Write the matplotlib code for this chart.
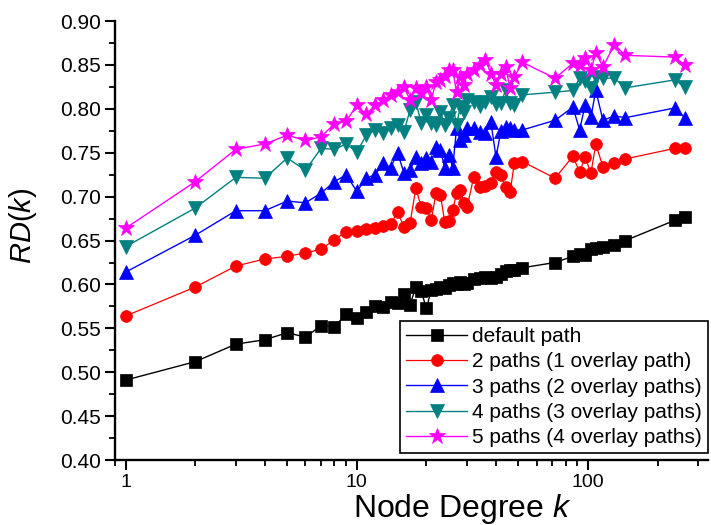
import matplotlib
matplotlib.use("Agg")
import matplotlib.pyplot as plt
from matplotlib.ticker import LogLocator, FixedLocator, MultipleLocator, NullFormatter, FuncFormatter

plt.rcParams['font.family'] = ['Liberation Sans', 'DejaVu Sans']
plt.rcParams['mathtext.fontset'] = 'custom'
plt.rcParams['mathtext.it'] = 'Liberation Sans:italic'
plt.rcParams['mathtext.rm'] = 'Liberation Sans'

# node degree k
degree = [1, 2, 3, 4, 5, 6, 7, 8, 9, 10, 11, 12, 13, 14, 15, 16, 17, 18, 19, 20,
          21, 22, 23, 24, 25, 26, 27, 28, 29, 30, 32, 34, 36, 38, 40, 42, 44, 46, 48, 52,
          72, 86, 92, 97, 103, 108, 116, 130, 145, 237, 262]

default_path = [0.491, 0.512, 0.532, 0.537, 0.545, 0.540, 0.553, 0.552, 0.566, 0.562,
                0.569, 0.575, 0.574, 0.580, 0.579, 0.589, 0.577, 0.597, 0.592, 0.573,
                0.594, 0.595, 0.597, 0.596, 0.599, 0.602, 0.600, 0.603, 0.601, 0.602,
                0.606, 0.607, 0.608, 0.607, 0.608, 0.612, 0.615, 0.616, 0.617, 0.619,
                0.625, 0.632, 0.635, 0.634, 0.640, 0.641, 0.643, 0.645, 0.650, 0.673, 0.677]

paths_2 = [0.564, 0.597, 0.621, 0.629, 0.632, 0.636, 0.640, 0.651, 0.660, 0.661,
           0.663, 0.664, 0.667, 0.669, 0.682, 0.666, 0.670, 0.710, 0.688, 0.687,
           0.673, 0.704, 0.702, 0.671, 0.672, 0.685, 0.704, 0.708, 0.693, 0.688,
           0.722, 0.711, 0.712, 0.715, 0.728, 0.725, 0.711, 0.705, 0.738, 0.740,
           0.721, 0.746, 0.728, 0.745, 0.727, 0.760, 0.734, 0.738, 0.743, 0.755, 0.755]

paths_3 = [0.614, 0.656, 0.684, 0.684, 0.695, 0.693, 0.704, 0.717, 0.725, 0.706,
           0.721, 0.725, 0.738, 0.733, 0.750, 0.727, 0.730, 0.745, 0.738, 0.744,
           0.740, 0.757, 0.753, 0.733, 0.748, 0.733, 0.778, 0.764, 0.770, 0.778,
           0.778, 0.774, 0.772, 0.785, 0.745, 0.775, 0.779, 0.778, 0.776, 0.776,
           0.787, 0.802, 0.776, 0.804, 0.791, 0.821, 0.787, 0.792, 0.790, 0.801, 0.790]

paths_4 = [0.643, 0.687, 0.722, 0.721, 0.744, 0.730, 0.755, 0.754, 0.760, 0.751,
           0.770, 0.776, 0.772, 0.778, 0.782, 0.774, 0.799, 0.808, 0.784, 0.793,
           0.784, 0.782, 0.796, 0.782, 0.790, 0.804, 0.782, 0.802, 0.796, 0.810,
           0.808, 0.803, 0.808, 0.813, 0.806, 0.807, 0.821, 0.807, 0.804, 0.816,
           0.819, 0.821, 0.835, 0.832, 0.824, 0.836, 0.835, 0.835, 0.824, 0.833, 0.825]

paths_5 = [0.664, 0.717, 0.754, 0.760, 0.770, 0.764, 0.768, 0.783, 0.786, 0.804,
           0.794, 0.804, 0.810, 0.816, 0.819, 0.825, 0.810, 0.824, 0.818, 0.825,
           0.810, 0.831, 0.833, 0.838, 0.844, 0.844, 0.819, 0.836, 0.827, 0.840,
           0.844, 0.850, 0.856, 0.840, 0.827, 0.840, 0.848, 0.824, 0.836, 0.853,
           0.835, 0.852, 0.850, 0.858, 0.844, 0.864, 0.848, 0.873, 0.861, 0.859, 0.850]

series_labels = ["default path",
                 "2 paths (1 overlay path)",
                 "3 paths (2 overlay paths)",
                 "4 paths (3 overlay paths)",
                 "5 paths (4 overlay paths)"]
y_ticks = [0.40, 0.45, 0.50, 0.55, 0.60, 0.65, 0.70, 0.75, 0.80, 0.85, 0.90]
x_ticks = [1, 10, 100]

fig = plt.figure(figsize=(7.11, 5.25), dpi=100)
ax = fig.add_axes([0.1617, 0.1238, 0.834, 0.836])

styles = [
    dict(color="black", marker="s", ms=8, lw=1.0),
    dict(color="#ff0000", marker="o", ms=8.5, lw=0.9),
    dict(color="#0000ff", marker="^", ms=9.5, lw=1.0),
    dict(color="#008080", marker="v", ms=9.5, lw=1.0),
    dict(color="#ff00ff", marker="*", ms=12, lw=1.0),
]
all_series = [default_path, paths_2, paths_3, paths_4, paths_5]
for values, label, st in zip(all_series, series_labels, styles):
    ax.plot(degree, values, label=label, color=st["color"], marker=st["marker"],
            markersize=st["ms"], linewidth=st["lw"], markeredgewidth=0.5,
            markeredgecolor=st["color"])

ax.set_xscale("log")
ax.set_xlim(0.9, 330)
ax.set_ylim(0.40, 0.90)

ax.xaxis.set_major_locator(FixedLocator(x_ticks))
ax.xaxis.set_major_formatter(FuncFormatter(lambda v, p: f"{v:g}"))
ax.xaxis.set_minor_locator(LogLocator(base=10, subs=range(2, 10)))
ax.xaxis.set_minor_formatter(NullFormatter())
ax.yaxis.set_major_locator(FixedLocator(y_ticks))
ax.yaxis.set_major_formatter(FuncFormatter(lambda v, p: f"{v:.2f}"))
ax.yaxis.set_minor_locator(MultipleLocator(0.025))

for side in ("top", "right"):
    ax.spines[side].set_visible(False)
for side in ("left", "bottom"):
    ax.spines[side].set_linewidth(1.7)

ax.tick_params(which="major", direction="out", length=7, width=1.5, pad=3)
ax.tick_params(which="minor", direction="out", length=4, width=1.3)
ax.tick_params(axis="y", which="major", labelsize=15)
ax.tick_params(axis="x", which="major", labelsize=14, pad=3)

ax.set_ylabel(r"$\mathit{RD(k)}$", fontsize=21)
ax.yaxis.set_label_coords(-0.128, 0.533)
ax.set_xlabel(r"Node Degree $\mathit{k}$", fontsize=23)
ax.xaxis.set_label_coords(0.585, -0.072)

leg = ax.legend(loc="lower right", bbox_to_anchor=(1.0, 0.015), fontsize=15,
                frameon=True, fancybox=False, edgecolor="black", framealpha=1,
                handlelength=2.9, borderpad=0.3, labelspacing=0.3, handletextpad=0.25,
                borderaxespad=0.0)
leg.get_frame().set_linewidth(1.2)

fig.savefig("out.png", dpi=100)
